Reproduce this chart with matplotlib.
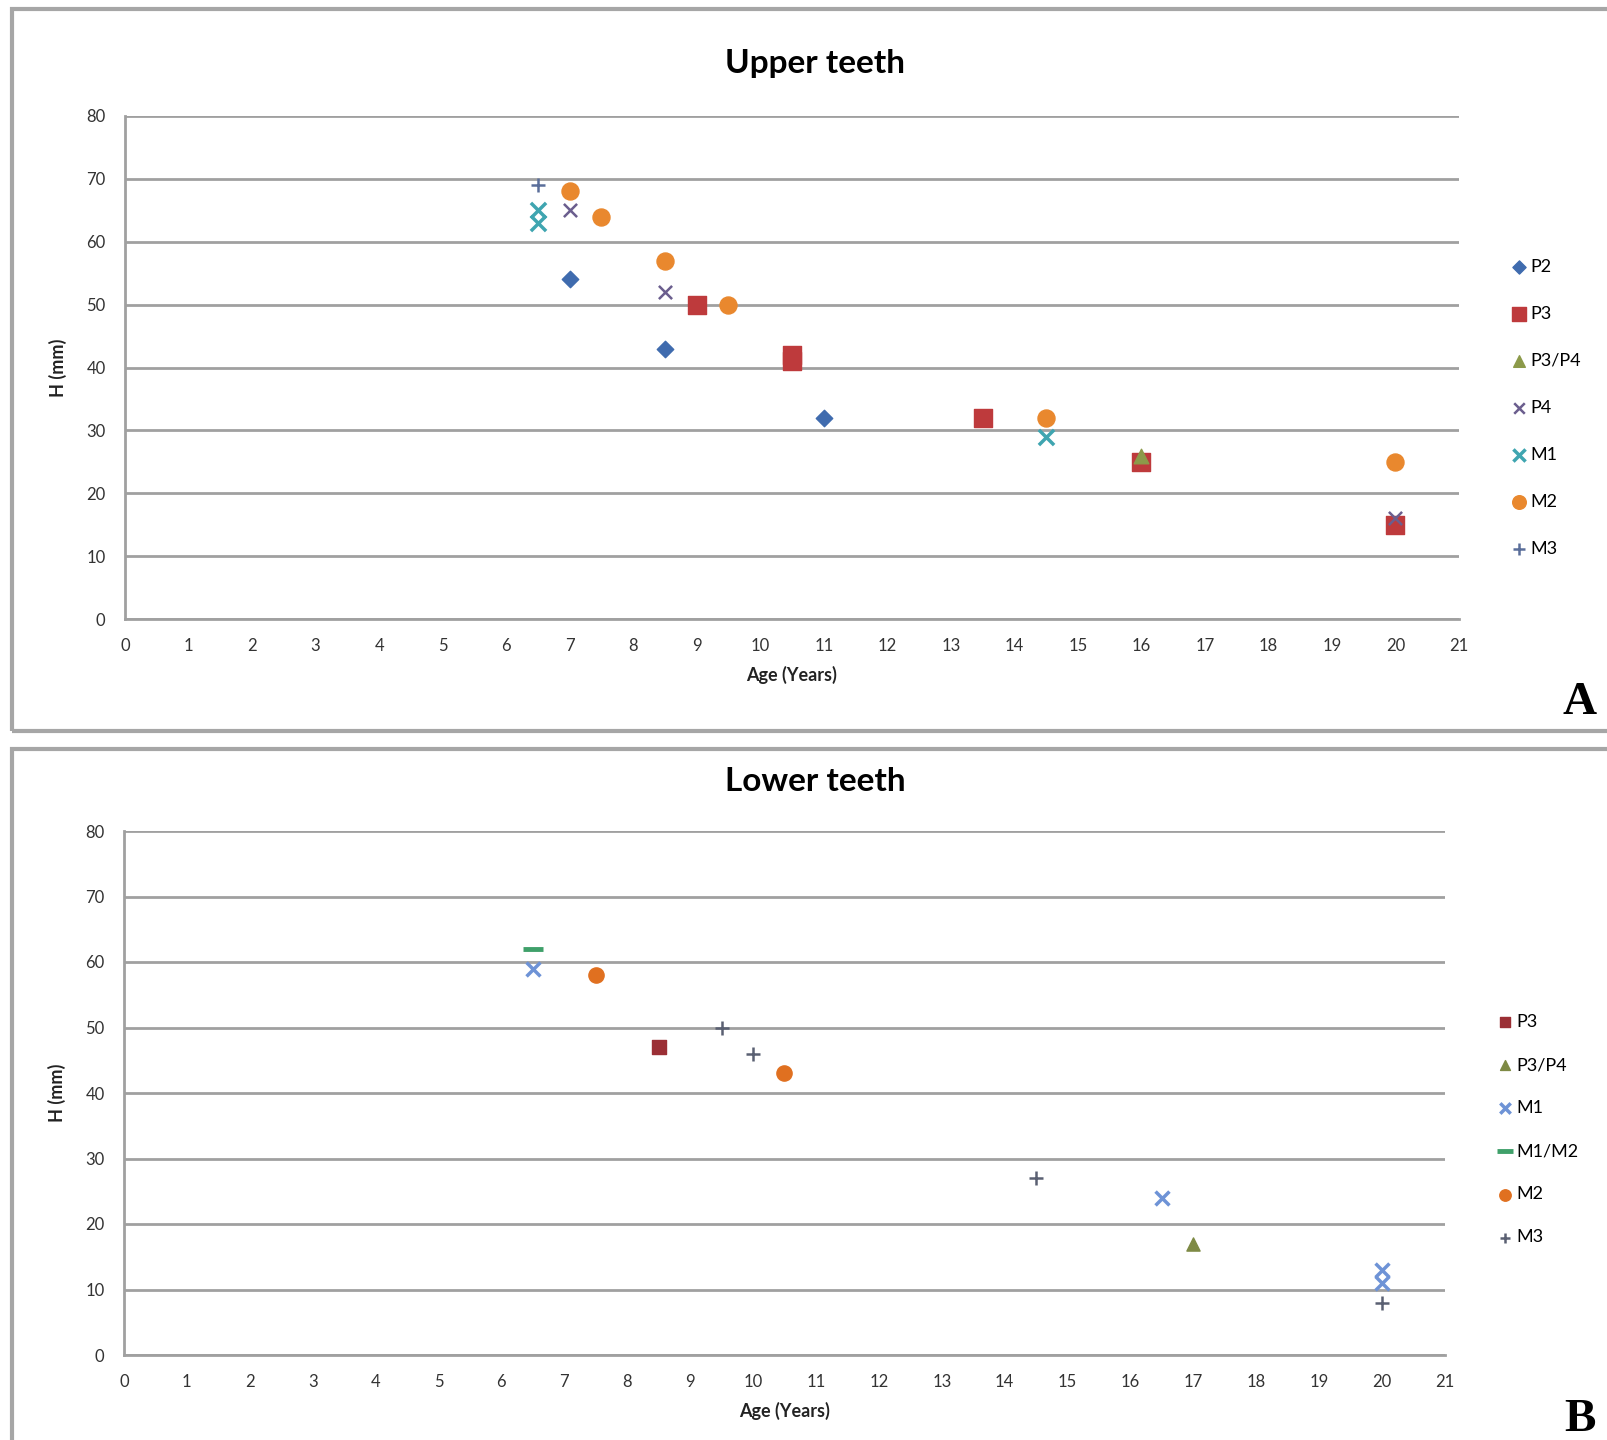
import matplotlib
matplotlib.use("Agg")
import matplotlib.pyplot as plt
from matplotlib.patches import Rectangle

plt.rcParams['font.family'] = ['Lato', 'DejaVu Sans']

# ---- Upper teeth data ----
up_P2_x = [7, 8.5, 11]
up_P2_y = [54, 43, 32]
up_P3_x = [9, 10.5, 10.5, 13.5, 16, 20]
up_P3_y = [50, 42, 41, 32, 25, 15]
up_P34_x = [16]
up_P34_y = [26]
up_P4_x = [7, 8.5, 20]
up_P4_y = [65, 52, 16]
up_M1_x = [6.5, 6.5, 14.5]
up_M1_y = [65, 63, 29]
up_M2_x = [7, 7.5, 8.5, 9.5, 14.5, 20]
up_M2_y = [68, 64, 57, 50, 32, 25]
up_M3_x = [6.5]
up_M3_y = [69]

# ---- Lower teeth data ----
lo_P3_x = [8.5]
lo_P3_y = [47]
lo_P34_x = [17]
lo_P34_y = [17]
lo_M1_x = [6.5, 16.5, 20, 20]
lo_M1_y = [59, 24, 13, 11]
lo_M12_x = [6.5]
lo_M12_y = [62]
lo_M2_x = [7.5, 10.5]
lo_M2_y = [58, 43]
lo_M3_x = [9.5, 10, 14.5, 20]
lo_M3_y = [50, 46, 27, 8]

x_ticks = list(range(0, 22))
y_ticks = list(range(0, 90, 10))

W, H = 1608, 1440
fig = plt.figure(figsize=(W/100, H/100), dpi=100)
fig.patch.set_facecolor('white')

# panel frames
fig.patches.append(Rectangle((12/W, 1-731/H), 1.0, 722/H, transform=fig.transFigure,
                             fill=False, edgecolor='#a6a6a6', linewidth=3))
fig.patches.append(Rectangle((12/W, -0.01), 1.0, (1440-735)/H, transform=fig.transFigure,
                             fill=False, edgecolor='#a6a6a6', linewidth=3))

def make_ax(l, t, r, b):
    return fig.add_axes([l/W, 1-b/H, (r-l)/W, (b-t)/H])

def style(ax, title, title_y):
    ax.set_xlim(0, 21)
    ax.set_ylim(0, 80)
    ax.set_xticks(x_ticks)
    ax.set_yticks(y_ticks)
    ax.yaxis.grid(True, color='#a0a0a0', linewidth=2)
    ax.set_axisbelow(True)
    for s in ['top', 'right']:
        ax.spines[s].set_visible(False)
    ax.spines['left'].set_color('#a0a0a0')
    ax.spines['bottom'].set_color('#a0a0a0')
    ax.spines['left'].set_linewidth(2)
    ax.spines['bottom'].set_linewidth(2)
    ax.tick_params(axis='both', length=0, labelsize=12, colors='#333333', pad=14)
    ax.set_xlabel('Age (Years)', fontsize=13, fontweight='bold', color='#222222', labelpad=8)
    ax.set_ylabel('H (mm)', fontsize=13, fontweight='bold', color='#222222', labelpad=14)
    fig.text(0.507, 1-title_y/H, title, ha='center', va='center', fontsize=24, fontweight='bold')

# Upper
ax1 = make_ax(125, 116, 1459, 619)
ax1.scatter(up_P2_x, up_P2_y, marker='D', s=70, color='#3F6BAE', label='P2', zorder=3)
ax1.scatter(up_P3_x, up_P3_y, marker='s', s=150, color='#BE3A3C', label='P3', zorder=3)
ax1.scatter(up_P34_x, up_P34_y, marker='^', s=110, color='#8C9A4A', label='P3/P4', zorder=3)
ax1.scatter(up_P4_x, up_P4_y, marker='x', s=90, color='#6B5E8E', linewidths=1.8, label='P4', zorder=3)
ax1.scatter(up_M1_x, up_M1_y, marker='x', s=120, color='#3FA5B0', linewidths=2.5, label='M1', zorder=3)
ax1.scatter(up_M2_x, up_M2_y, marker='o', s=150, color='#E9882E', label='M2', zorder=3)
ax1.scatter(up_M3_x, up_M3_y, marker='+', s=110, color='#5A6E9A', linewidths=1.8, label='M3', zorder=3)
style(ax1, 'Upper teeth', 63)
ax1.legend(loc='center left', bbox_to_anchor=(1.025, 0.42), frameon=False, fontsize=13,
           handletextpad=0.0, labelspacing=1.72, markerscale=0.8, handlelength=1.2)

# Lower
ax2 = make_ax(124, 831, 1445, 1355)
ax2.scatter(lo_P3_x, lo_P3_y, marker='s', s=110, color='#9B2F35', label='P3', zorder=3)
ax2.scatter(lo_P34_x, lo_P34_y, marker='^', s=90, color='#7E8A45', label='P3/P4', zorder=3)
ax2.scatter(lo_M1_x, lo_M1_y, marker='x', s=100, color='#6E93D6', linewidths=2.5, label='M1', zorder=3)
ax2.scatter(lo_M12_x, lo_M12_y, marker='_', s=220, color='#3FA06A', linewidths=3.5, label='M1/M2', zorder=3)
ax2.scatter(lo_M2_x, lo_M2_y, marker='o', s=120, color='#E07020', label='M2', zorder=3)
ax2.scatter(lo_M3_x, lo_M3_y, marker='+', s=110, color='#5A6072', linewidths=1.8, label='M3', zorder=3)
style(ax2, 'Lower teeth', 782)
ax2.legend(loc='center left', bbox_to_anchor=(1.025, 0.43), frameon=False, fontsize=13,
           handletextpad=0.0, labelspacing=1.5, markerscale=0.75, handlelength=1.2)

fig.text(1580/W, 1-703/H, 'A', fontsize=34, fontweight='bold', family='Liberation Serif', ha='center', va='center')
fig.text(1580/W, 1-1420/H, 'B', fontsize=34, fontweight='bold', family='Liberation Serif', ha='center', va='center')

fig.savefig('out.png', dpi=100)
